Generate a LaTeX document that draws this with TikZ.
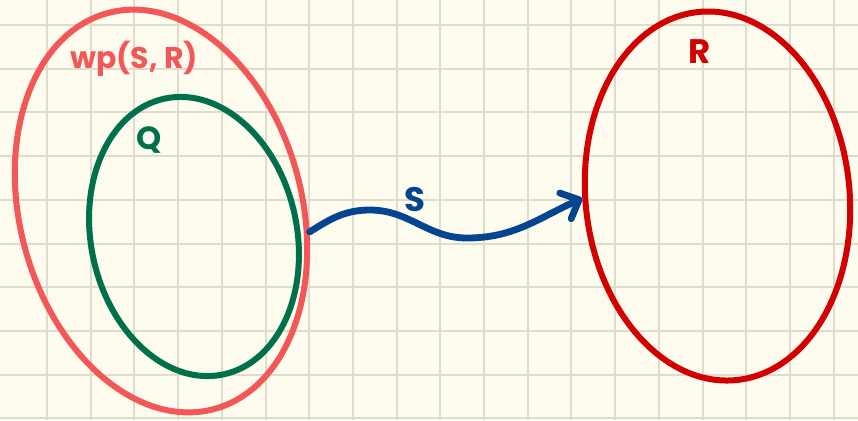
\documentclass[tikz,border=0pt]{standalone}
\usepackage{fontspec}
\setmainfont{Poppins}
\usepackage{xcolor}
\usepackage{tikz}
\usetikzlibrary{positioning, arrows.meta, shapes.geometric}

\definecolor{paper}{HTML}{FDFCEE}
\definecolor{gridc}{HTML}{DEDCCD}
\definecolor{wpred}{HTML}{F45757}
\definecolor{qgreen}{HTML}{00704C}
\definecolor{rred}{HTML}{D20000}
\definecolor{sblue}{HTML}{034591}

\begin{document}
\begin{tikzpicture}[
    x=0.5pt, y=-0.5pt,
    region/.style={ellipse, draw, line width=3pt, inner sep=0pt},
    lbl/.style={font=\bfseries\fontsize{15}{18}\selectfont, inner sep=0pt},
    flow/.style={line width=3.4pt, line cap=round, sblue,
        -{Straight Barb[length=7.5pt, width=14pt, round]}},
    gridline/.style={gridc, line width=1pt}
]

% paper and grid
\fill[paper] (0,0) rectangle (858,420);
\useasboundingbox (0,0) rectangle (858,420);
\foreach \gx in {0,...,18}
    \draw[gridline] ({47+43.7*\gx},0) -- ({47+43.7*\gx},420);
\foreach \gy in {0,...,9}
    \draw[gridline] (0,{25+43.7*\gy}) -- (858,{25+43.7*\gy});

% sets
\node[region, wpred, minimum width=141pt, minimum height=205pt, rotate=15] (wp) at (161,211) {};
\node[region, qgreen, minimum width=103pt, minimum height=141pt, rotate=12] (pre) at (194,236.5) {};
\node[region, rred, minimum width=132pt, minimum height=185pt, rotate=6] (post) at (717.5,196) {};

% labels
\node[lbl, wpred] (wplbl) at (134,59) {wp(S, R)};
\node[lbl, qgreen, font=\bfseries\fontsize{16}{19}\selectfont] (prelbl) at (149,140) {Q};
\node[lbl, rred, font=\bfseries\fontsize{17}{20}\selectfont] (postlbl) at (700,52) {R};
\node[lbl, sblue, font=\bfseries\fontsize{17}{20}\selectfont] (slbl) at (415,200) {S};

% statement
\coordinate (crest) at (370,210);
\coordinate (trough) at (467,238);
\draw[flow] (wp.-23) to[out=32, in=180] (crest) to[out=0, in=180] (trough)
    to[out=0, in=204] (post.175);

\end{tikzpicture}
\end{document}
